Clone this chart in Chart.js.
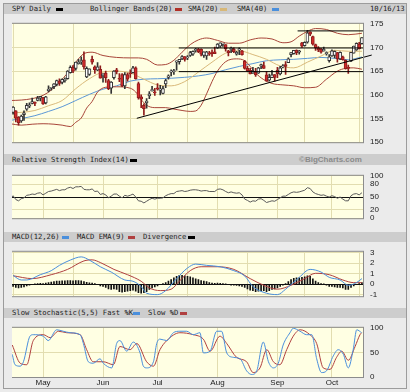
<!DOCTYPE html>
<meta charset="utf-8">
<title>SPY Daily</title>
<style>
  html, body { margin: 0; background: #ebebeb; }
  #wrap { position: relative; width: 410px; height: 392px; overflow: hidden; background: #ebebeb; }
  #edge { position: absolute; left: 3px; top: 3px; width: 402px; height: 384px; border: 1px solid #9c9c9c; }
  .strip { position: absolute; left: 4px; width: 402px; height: 10px; background: #cdcdcd; }
  .t { position: absolute; font: 7.2px "DejaVu Sans Mono", monospace; color: #1e1e1e; white-space: pre; line-height: 10px; }
  .mark { position: absolute; font: bold 8px "Liberation Sans", Arial, sans-serif; color: #8a8a8a; line-height: 11px; }
  .sw { position: absolute; width: 7px; height: 3px; }
  canvas { position: absolute; left: 12px; }
</style>
<div id="wrap">
  <div id="edge"></div>

  <div class="strip" style="top:4px"></div>
  <span class="t" style="left:12px;top:4px">SPY Daily</span>
  <span class="sw" style="left:56px;top:8px;background:#000"></span>
  <span class="t" style="left:90px;top:4px">Bollinger Bands(20)</span>
  <span class="sw" style="left:175px;top:8px;background:#b03028"></span>
  <span class="t" style="left:188px;top:4px">SMA(20)</span>
  <span class="sw" style="left:220px;top:8px;background:#d8b878"></span>
  <span class="t" style="left:237px;top:4px">SMA(40)</span>
  <span class="sw" style="left:272px;top:8px;background:#4a8fdc"></span>
  <span class="t" style="left:370px;top:4px">10/16/13</span>

  <div class="strip" style="top:154px;height:11px"></div>
  <span class="t" style="left:12px;top:154.5px">Relative Strength Index(14)</span>
  <span class="sw" style="left:130px;top:158.5px;background:#000"></span>
  <span class="mark" style="left:299px;top:154px">©BigCharts.com</span>

  <div class="strip" style="top:232px"></div>
  <span class="t" style="left:12px;top:232px">MACD(12,26)</span>
  <span class="sw" style="left:62px;top:236px;background:#4a8fdc"></span>
  <span class="t" style="left:77px;top:232px">MACD EMA(9)</span>
  <span class="sw" style="left:128px;top:236px;background:#b04040"></span>
  <span class="t" style="left:143px;top:232px">Divergence</span>
  <span class="sw" style="left:188px;top:236px;background:#000"></span>

  <div class="strip" style="top:308px"></div>
  <span class="t" style="left:12px;top:308px">Slow Stochastic(5,5) Fast %K</span>
  <span class="sw" style="left:133px;top:312px;background:#4a8fdc"></span>
  <span class="t" style="left:148px;top:308px">Slow %D</span>
  <span class="sw" style="left:180px;top:312px;background:#b04040"></span>

  <canvas id="price" width="394" height="142" style="top:12px"></canvas>
  <canvas id="rsi" width="394" height="66" style="top:164px"></canvas>
  <canvas id="macd" width="394" height="68" style="top:240px"></canvas>
  <canvas id="stoch" width="394" height="73" style="top:316px"></canvas>
</div>
<script src="https://cdn.jsdelivr.net/npm/chart.js@4"></script>
<script>
  // trading days, 0 = Apr 15 2013 ... 129 = Oct 16 2013
  const monthLabels = ["May", "Jun", "Jul", "Aug", "Sep", "Oct"]
  const monthDays = [12, 34, 54, 76, 98, 118]

  const open = [158.0,156.3,156.6,155.3,154.5,155.8,157.0,157.6,158.2,158.3,158.8,159.3,159.4,158.3,160.9,161.4,161.7,162.2,162.9,162.6,
    163.0,163.4,164.7,165.8,165.6,166.6,167.0,167.4,163.8,164.3,167.5,165.9,165.2,165.4,164.0,164.6,163.0,161.4,163.6,165.3,
    163.4,164.3,161.9,164.3,164.5,164.7,165.7,162.4,159.6,157.8,158.3,159.8,160.9,160.6,161.5,161.0,160.3,162.3,163.7,164.8,
    164.9,166.9,167.0,167.6,168.1,167.8,168.3,168.6,169.4,169.6,169.6,168.3,168.2,168.8,169.0,169.1,169.9,170.3,170.7,170.6,
    169.3,169.6,169.6,168.6,169.5,169.3,167.1,165.6,165.2,164.6,164.8,164.6,166.1,166.2,164.2,163.1,163.6,164.3,165.2,164.4,
    165.9,166.4,166.8,168.5,168.7,169.4,169.0,171.0,170.4,171.1,173.3,172.3,170.6,169.9,169.6,169.3,168.7,167.2,168.2,168.3,
    168.9,167.6,168.0,167.3,165.8,167.1,168.8,169.5,170.7,170.8]
  const high = [158.1,157.5,156.7,155.4,155.7,156.6,158.2,158.3,159.3,158.5,159.7,159.7,159.5,159.7,161.9,161.6,162.4,163.1,163.4,163.4,
    163.6,165.1,166.1,166.2,166.9,167.5,168.0,169.1,165.9,165.5,168.2,166.1,166.8,166.1,164.5,165.0,163.3,162.8,165.1,165.6,
    164.5,164.5,164.7,164.6,165.3,166.0,165.9,162.7,160.0,158.1,159.2,160.7,161.8,161.4,162.4,162.0,161.8,163.3,164.2,165.3,
    165.4,167.2,167.5,168.3,168.1,168.3,169.2,169.3,169.8,169.8,169.7,169.1,169.2,169.2,169.5,170.1,170.8,171.0,170.9,170.6,
    169.4,170.1,169.9,169.2,169.9,169.4,167.3,166.0,165.6,165.8,165.6,165.8,166.5,166.9,164.9,164.4,165.2,164.3,165.8,166.0,
    166.4,167.0,167.8,168.9,169.4,169.5,169.4,171.1,171.2,173.6,173.3,172.4,170.7,170.2,169.8,170.1,169.1,168.5,169.5,169.3,
    169.0,169.1,168.2,167.4,166.3,169.0,170.3,171.0,171.1,172.1]
  const low = [155.1,155.9,154.3,153.6,154.2,154.6,156.7,157.3,158.1,157.7,158.7,158.7,158.0,158.1,160.6,161.0,161.3,161.9,162.0,162.3,
    162.7,163.3,164.6,164.7,165.2,166.5,166.4,165.4,163.6,164.1,166.5,164.5,165.1,163.5,162.7,162.6,161.1,160.3,163.3,164.4,
    162.8,161.7,161.3,162.9,163.7,164.6,163.3,159.1,157.3,155.7,157.2,159.2,160.8,159.9,161.0,160.0,160.2,161.5,163.3,164.0,
    164.3,165.2,166.5,167.4,167.1,167.4,168.1,168.3,169.0,168.9,168.2,167.9,167.5,168.3,168.1,168.7,169.8,170.0,170.2,169.2,
    168.2,168.9,168.9,168.4,168.5,168.4,165.4,164.9,164.4,164.5,163.9,164.5,165.5,165.6,162.9,162.9,163.6,162.9,163.6,164.2,
    165.7,164.3,166.8,168.0,168.6,168.5,168.6,170.0,170.3,170.9,172.5,170.5,169.4,169.1,168.8,169.2,168.4,166.9,168.1,167.8,
    166.9,167.4,167.3,165.4,164.5,167.0,168.8,169.4,169.7,170.7]
  const close = [155.2,157.4,155.1,154.1,155.5,156.2,157.8,157.9,158.6,158.2,159.3,159.7,158.1,159.6,161.2,161.5,162.3,163.0,162.4,163.3,
    163.3,165.0,165.8,165.0,166.9,166.9,167.2,165.9,165.6,165.5,166.9,165.3,165.9,163.5,164.4,163.6,161.3,162.7,165.0,164.9,
    163.3,161.9,164.3,163.3,164.4,165.7,163.4,159.4,159.1,157.1,158.7,160.2,161.1,160.4,161.2,161.1,161.3,163.0,164.0,164.9,
    165.0,167.2,167.5,168.1,167.5,168.0,168.9,169.2,169.5,169.1,168.6,169.1,169.1,168.6,168.7,168.7,170.7,171.0,170.7,169.7,
    168.9,169.7,169.1,169.0,169.5,168.5,165.6,165.1,164.4,165.0,164.2,165.7,166.4,165.6,162.9,163.7,164.2,163.7,164.4,165.7,
    166.0,166.0,167.6,168.9,169.4,168.9,169.3,170.3,171.1,173.1,172.8,170.7,169.9,169.5,169.0,169.6,168.9,168.0,169.3,169.2,
    167.6,169.0,167.4,165.5,165.6,169.0,170.3,170.9,169.7,172.1]

  const maDays = [0,4,9,14,19,24,29,34,39,44,49,54,59,64,69,74,79,84,89,94,99,104,109,114,119,124,129]
  const sma20 = [156.2,156.3,156.7,157.7,158.8,161.3,163.4,164.8,165.0,164.6,163.3,162.1,161.9,162.8,164.8,166.9,168.8,169.3,168.5,167.5,166.1,165.7,166.9,168.2,169.4,169.2,169.2]
  const sma40 = [154.6,155.0,155.6,156.5,157.5,158.8,160.1,161.2,161.9,162.9,163.3,163.4,163.5,163.7,164.0,164.5,165.3,166.0,166.6,167.2,167.4,167.5,167.7,167.9,167.7,167.4,168.0]

  const upperDays = [0,4,8,12,15,18,21,24,27,30,34,39,44,47,50,54,57,60,63,66,69,72,76,80,84,88,92,96,100,103,106,109,112,116,120,124,129]
  const upperBand = [158.8,158.9,159.2,159.9,161.0,162.7,164.6,166.9,168.7,169.0,168.3,167.9,167.8,167.8,167.5,166.3,166.4,167.3,169.0,170.6,
    171.6,172.0,171.5,170.9,170.9,171.6,172.0,171.8,171.0,171.2,172.4,173.4,174.0,173.8,173.0,172.7,173.0]
  const lowerDays = [0,4,8,12,16,19,22,24,26,28,30,32,35,39,44,46,48,50,53,57,60,63,66,68,70,72,74,76,79,83,86,88,90,93,96,100,104,108,112,116,120,123,126,129]
  const lowerBand = [153.9,153.6,153.8,153.9,153.8,153.6,153.3,154.2,155.1,157.2,158.6,160.6,161.6,161.7,161.4,160.6,159.0,157.8,157.3,157.3,
    157.0,156.7,156.5,156.6,157.8,160.2,162.8,165.0,167.0,167.6,167.2,166.0,164.6,163.2,162.4,162.1,161.9,161.5,161.6,163.3,
    165.0,165.6,165.7,165.4]

  // drawn support / resistance and trend lines: [fromDay, fromPrice, toDay, toPrice]
  const drawnLines = [
    [61.8, 169.9, 129.4, 169.9],
    [61.8, 164.9, 129.4, 164.9],
    [105.4, 173.5, 129.4, 173.5],
    [46.4, 155.05, 132.6, 168.4],
  ]

  const rsi = [45,53,44,41,46,48,54,55,57,56,59,60,55,59,63,64,66,68,65,67,67,71,73,70,74,74,75,68,67,67,
    69,63,64,56,58,55,48,52,57,57,52,48,54,52,54,57,50,41,40,36,40,44,47,45,47,47,48,53,56,58,
    58,63,64,65,63,64,66,67,67,66,64,65,65,63,63,63,68,69,67,63,60,62,60,59,60,55,45,42,38,41,
    40,45,46,42,37,39,41,40,44,48,52,52,56,60,62,61,62,64,66,72,70,62,58,56,54,55,52,50,53,51,
    47,50,45,41,41,53,57,58,55,60]

  const macdDays = [1,4,6,11,15,18,22,26,29,33,37,42,45,48,50,54,57,61,65,68,72,77,82,86,89,94,98,101,106,110,114,117,121,124,127,129]
  const macd = [0.83,0.4,0.4,0.9,1.28,1.78,2.28,2.58,2.28,1.65,1.15,0.4,0.28,-0.22,-0.85,-0.98,-0.6,0.53,1.53,1.9,
    1.78,1.65,1.28,0.78,-0.22,-0.85,-0.98,-0.47,0.65,1.4,1.15,0.65,0.4,-0.1,0.15,0.53]
  const signalDays = [1,8,15,21,27,30,33,38,43,48,51,55,59,62,66,70,76,82,88,93,98,103,108,112,117,122,126,129]
  const signal = [0.8,0.53,0.9,1.4,2.2,2.3,2.05,1.4,0.9,0.28,-0.35,-0.6,-0.47,0.28,1.28,1.65,1.65,1.4,0.53,-0.1,
    -0.47,-0.1,0.53,1.03,0.9,0.4,0.15,0.15]
  const divergence = [-0.1,-0.2,-0.3,-0.35,-0.3,-0.25,-0.15,-0.1,-0.05,0.03,0.06,0.08,0.05,0.1,0.15,0.2,0.25,0.3,0.3,0.32,
    0.33,0.35,0.35,0.33,0.35,0.35,0.32,0.25,0.18,0.12,0.1,0.05,-0.05,-0.15,-0.2,-0.3,-0.45,-0.5,-0.45,-0.5,
    -0.7,-0.75,-0.7,-0.65,-0.6,-0.55,-0.65,-0.8,-0.85,-0.8,-0.7,-0.5,-0.35,-0.25,-0.15,-0.05,0.05,0.15,0.3,0.45,
    0.6,0.75,0.85,0.85,0.8,0.75,0.7,0.6,0.5,0.45,0.35,0.3,0.25,0.15,0.1,0.08,0.1,0.08,0.05,0.02,
    -0.05,-0.08,-0.1,-0.12,-0.15,-0.2,-0.3,-0.45,-0.55,-0.6,-0.7,-0.65,-0.6,-0.6,-0.7,-0.6,-0.5,-0.45,-0.35,-0.2,
    -0.1,0.05,0.25,0.45,0.55,0.6,0.6,0.65,0.7,0.8,0.75,0.5,0.3,0.15,0.05,0.02,-0.1,-0.2,-0.2,-0.25,
    -0.3,-0.3,-0.35,-0.5,-0.5,-0.3,-0.15,0,0.05,0.15]

  const kDays = [0.7,1.7,3.6,4.8,7.2,8.4,12.1,13.9,17,19.4,21.9,25.6,26.8,28.6,30.4,32.9,34.1,37.2,39,40.2,
    42.7,45.1,47.6,48.8,50,52.5,53.7,54.9,57.4,59.8,62.2,64.7,67.1,69.6,70.8,73.3,75.7,77.5,79.4,81.8,
    84.3,86.7,88.6,90.4,92.8,94.7,96.5,98.3,100.1,102.6,103.8,106.3,108.7,110.6,112.4,114.2,116,118.5,120.3,122.2,
    124,125.8,127.1,128.9]
  const stochK = [46,25,22,31,83,86,83,74,96,93,90,86,68,31,28,37,28,18.5,68,74,
    52.5,71,49,22,18.5,31,68,77,74,90,93,93,86,90,49,52.5,93,93,49,40,
    37,12.4,5,12.4,71,31,18.5,28,65,90,99,93,86,86,37,9,12.4,43,55.5,46,
    18.5,55.5,96,90]
  const dDays = [0.7,3.6,6,8.4,12.1,14.6,17.6,20.7,25.6,28,30.4,34.1,37.8,40.2,43.9,46.4,50,52.5,54.9,57.4,
    62.2,67.1,70.8,73.3,76.9,79.4,83,86.7,89.1,91.6,94.1,96.5,98.9,101.4,103.8,106.3,109.9,112.4,114.8,117.3,
    119.7,121.6,124,126.5,128.3,128.9]
  const stochD = [65,28,25,74,86,80,93,90,86,55.5,31,31,25,62,55.5,68,31,22,55.5,74,
    90,86,77,52.5,83,68,40,31,9,18.5,55.5,31,25,55.5,83,96,86,68,18.5,15.5,
    40,52.5,34,62,86,90]

  const DAY_MIN = 0.6, DAY_MAX = 129.4
  const GRID = "#e2ddb0"
  const TICK_FONT = { family: "Liberation Sans, Arial, sans-serif", size: 8 }
  const BLUE = "#4a8fdc", RED = "#b04040"

  const days = close.map((_, i) => i)
  const pts = (xs, ys) => ys.map((y, i) => ({ x: xs[i], y }))

  // cream plot background and grey box round the plot area
  const plotBox = {
    id: "plotBox",
    beforeDraw(c) {
      const a = c.chartArea
      c.ctx.save()
      c.ctx.fillStyle = "#ffffe3"
      c.ctx.fillRect(a.left, a.top, a.width, a.height)
      c.ctx.restore()
    },
    afterDraw(c) {
      const a = c.chartArea
      c.ctx.save()
      c.ctx.strokeStyle = "#8c8c8c"
      c.ctx.lineWidth = 1
      c.ctx.strokeRect(a.left - 0.5, a.top - 0.5, a.width + 1, a.height + 1)
      c.ctx.restore()
    },
  }

  function line(data, color, extra) {
    return Object.assign({
      type: "line", data, borderColor: color, borderWidth: 1,
      pointRadius: 0, fill: false, cubicInterpolationMode: "monotone",
    }, extra)
  }

  function panel(id, yMin, yMax, yTicks, datasets, opt = {}) {
    return new Chart(document.getElementById(id), {
      type: "line",
      data: { datasets },
      plugins: [plotBox],
      options: {
        responsive: false,
        animation: false,
        events: [],
        layout: { padding: { top: 6, bottom: opt.showX ? 0 : 6, left: 0, right: 0 } },
        plugins: { legend: { display: false }, tooltip: { enabled: false } },
        scales: {
          x: {
            type: "linear", min: DAY_MIN, max: DAY_MAX, offset: false,
            afterBuildTicks: s => { s.ticks = monthDays.map(v => ({ value: v })) },
            ticks: {
              display: !!opt.showX, autoSkip: false, maxRotation: 0, padding: 1,
              font: TICK_FONT, color: "#222",
              callback: (v, i) => monthLabels[i],
            },
            grid: { color: GRID, drawTicks: false },
            border: { display: false },
            afterFit: s => { s.height = opt.showX ? 12 : 0 },
          },
          y: {
            position: "right", min: yMin, max: yMax,
            afterBuildTicks: s => { s.ticks = yTicks.map(v => ({ value: v })) },
            ticks: { font: TICK_FONT, color: "#222", padding: 7 },
            grid: {
              drawTicks: false,
              color: c => (c.tick && c.tick.value === opt.darkAt) ? "#111" : GRID,
            },
            border: { display: false },
            afterFit: s => { s.width = 43 },
          },
        },
      },
    })
  }

  const up = i => close[i] >= open[i]

  panel("price", 150, 175, [150, 155, 160, 165, 170, 175], [
    ...drawnLines.map((l, k) => line([{ x: l[0], y: l[1] }, { x: l[2], y: l[3] }], "#000",
      { order: 0, cubicInterpolationMode: "default", clip: k == 3 ? false : undefined })),
    {
      type: "bar", order: 2, grouped: false, barThickness: 3, minBarLength: 1,
      data: days.map(i => ({ x: i, y: [open[i], close[i]] })),
      backgroundColor: days.map(i => up(i) ? "#ffffff" : "#d22b2b"),
      borderColor: days.map(i => up(i) ? "#333333" : "#8e1c1c"),
      borderWidth: 1, borderSkipped: false,
    },
    {
      type: "bar", order: 3, grouped: false, barThickness: 1,
      data: days.map(i => ({ x: i, y: [low[i], high[i]] })),
      backgroundColor: days.map(i => up(i) ? "#333333" : "#8e1c1c"),
    },
    line(pts(upperDays, upperBand), "#a8463a", { order: 4 }),
    line(pts(lowerDays, lowerBand), "#a8463a", { order: 4 }),
    line(pts(maDays, sma20), "#d9b97a", { order: 4 }),
    line(pts(maDays, sma40), "#5b97d6", { order: 4 }),
  ])

  panel("rsi", 0, 100, [0, 20, 50, 80, 100], [
    line(days.map(i => ({ x: i, y: rsi[i] })), "#5a5a5a", { cubicInterpolationMode: "default" }),
  ], { darkAt: 50 })

  panel("macd", -1.13, 3.06, [-1, 0, 1, 2, 3], [
    line(pts(macdDays, macd), BLUE, { order: 0 }),
    line(pts(signalDays, signal), RED, { order: 1 }),
    {
      type: "bar", order: 2, grouped: false, barThickness: 1,
      data: days.map(i => ({ x: i, y: divergence[i] })),
      backgroundColor: "#111",
    },
  ], { darkAt: 0 })

  panel("stoch", 0, 100, [0, 25, 50, 75, 100], [
    line(pts(kDays, stochK), BLUE, { order: 0 }),
    line(pts(dDays, stochD), RED, { order: 1 }),
  ], { showX: true })
</script>
